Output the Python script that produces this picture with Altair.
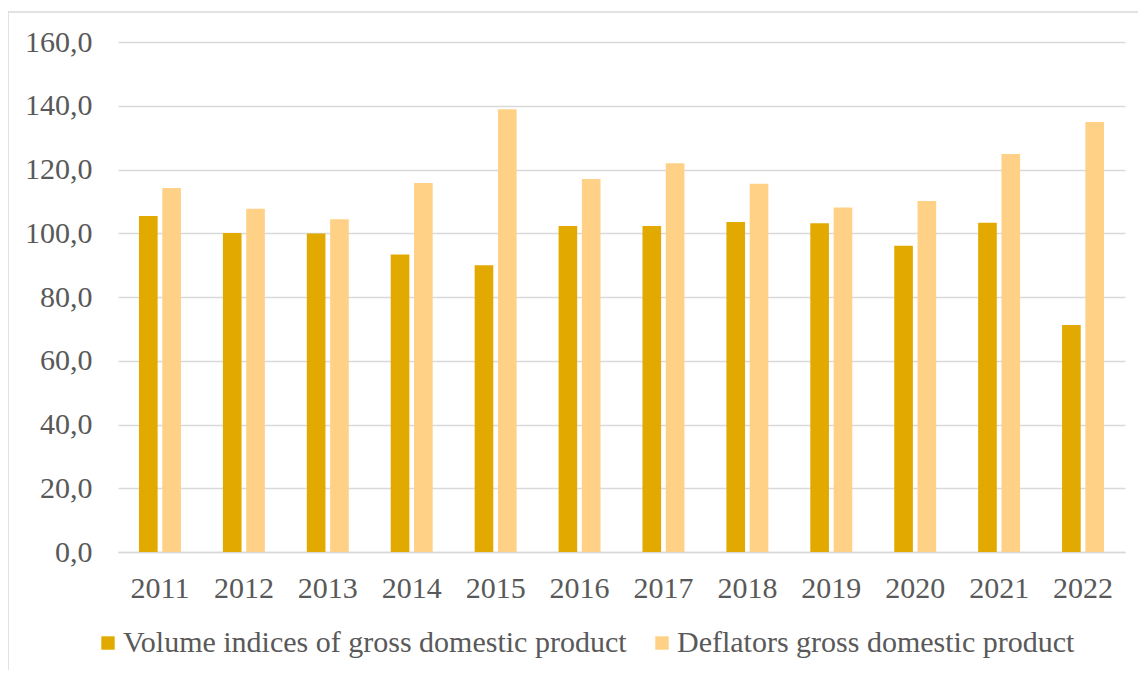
import altair as alt
import pandas as pd

years = ["2011", "2012", "2013", "2014", "2015", "2016", "2017", "2018", "2019", "2020", "2021", "2022"]
volume = [105.4, 100.1, 99.9, 93.3, 90.0, 102.3, 102.3, 103.5, 103.1, 96.1, 103.3, 71.2]
deflator = [114.2, 107.7, 104.4, 115.8, 138.9, 117.0, 122.0, 115.5, 108.1, 110.1, 124.9, 134.9]
series_names = ["Volume indices of gross domestic product", "Deflators gross domestic product"]
colors = ["#E2AA00", "#FFD186"]

rows = []
for i, y in enumerate(years):
    rows.append({"year": y, "series": series_names[0], "value": volume[i], "order": 0})
    rows.append({"year": y, "series": series_names[1], "value": deflator[i], "order": 1})
df = pd.DataFrame(rows)

FONT = "Liberation Serif"
TXT = "#595959"
FS = 30
W, H = 1007, 510

border = alt.Chart(pd.DataFrame({"a": [0]})).mark_rect(
    fill=None, stroke="#D9D9D9", strokeWidth=1.5
).encode(x=alt.value(-110), x2=alt.value(W + 80), y=alt.value(-30), y2=alt.value(H + 200))

bars = alt.Chart(df).mark_bar().encode(
    x=alt.X("year:N", sort=years,
            scale=alt.Scale(paddingInner=0.5, paddingOuter=0.25),
            axis=alt.Axis(title=None, labelAngle=0, ticks=False, domainColor="#D9D9D9",
                          domainWidth=1.5, labelPadding=21, grid=False)),
    xOffset=alt.XOffset("series:N", sort=series_names, scale=alt.Scale(paddingInner=0.2)),
    y=alt.Y("value:Q", scale=alt.Scale(domain=[0, 160], nice=False),
            axis=alt.Axis(title=None, values=[0, 20, 40, 60, 80, 100, 120, 140, 160],
                          labelExpr="replace(format(datum.value, '.1f'), '.', ',')",
                          ticks=False, domain=False, gridColor="#D9D9D9", gridWidth=1.5,
                          labelPadding=26)),
    color=alt.Color("series:N", sort=series_names,
                    scale=alt.Scale(domain=series_names, range=colors),
                    legend=alt.Legend(title=None, orient="none", direction="horizontal",
                                      legendX=-25, legendY=586, padding=0, symbolType="square",
                                      symbolSize=180, symbolStrokeWidth=0, columnPadding=20,
                                      labelFontSize=FS, labelColor=TXT, labelFont=FONT,
                                      labelLimit=0, symbolOpacity=1, labelOffset=0)),
)

chart = alt.layer(border, bars).properties(
    width=W, height=H,
    autosize=alt.AutoSizeParams(type="none"),
    padding={"left": 110, "top": 34, "right": 13, "bottom": 118},
    background="white",
).configure_view(stroke=None).configure_axis(
    labelFont=FONT, labelFontSize=FS, labelColor=TXT
)

chart.save("out.html", embed_options={"renderer": "svg", "actions": False})
